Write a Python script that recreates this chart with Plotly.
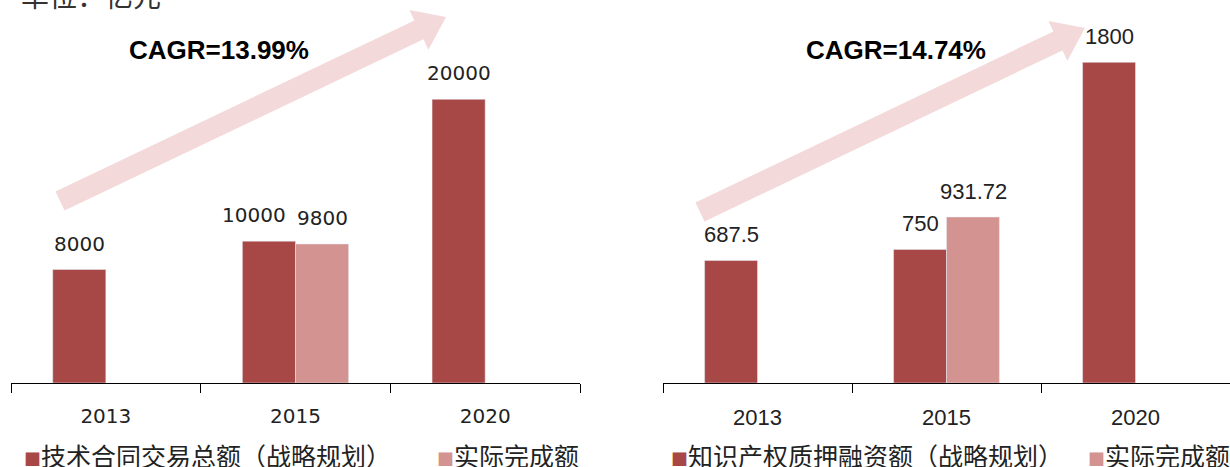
import plotly.graph_objects as go
import math

W, H = 1230, 467

# ---- data ----
years = ["2013", "2015", "2020"]
tech_plan = [8000, 10000, 20000]
tech_actual = [None, 9800, None]
ip_plan = [687.5, 750, 1800]
ip_actual = [None, 931.72, None]
tech_plan_labels = ["8000", "10000", "20000"]
tech_actual_labels = [None, "9800", None]
ip_plan_labels = ["687.5", "750", "1800"]
ip_actual_labels = [None, "931.72", None]
cagr_left = "CAGR=13.99%"
cagr_right = "CAGR=14.74%"
legend_left = ["技术合同交易总额（战略规划）", "实际完成额"]
legend_right = ["知识产权质押融资额（战略规划）", "实际完成额"]
unit_text = "单位：亿元"

C_PLAN = "#A84846"
C_ACT = "#D39390"
C_ARROW = "#F3D9D9"

fig = go.Figure()
fig.add_trace(go.Bar(x=years, y=tech_plan, marker_color=C_PLAN, xaxis="x", yaxis="y",
                     showlegend=False, name=legend_left[0]))
fig.add_trace(go.Bar(x=years, y=tech_actual, marker_color=C_ACT, xaxis="x", yaxis="y",
                     showlegend=False, name=legend_left[1]))
fig.add_trace(go.Bar(x=years, y=ip_plan, marker_color=C_PLAN, xaxis="x2", yaxis="y2",
                     showlegend=False, name=legend_right[0]))
fig.add_trace(go.Bar(x=years, y=ip_actual, marker_color=C_ACT, xaxis="x2", yaxis="y2",
                     showlegend=False, name=legend_right[1]))

ann = []
def labels(vals, labs, partner, xr, yr, xshift, font, size, nudge=0):
    for i, (v, l) in enumerate(zip(vals, labs)):
        if v is None:
            continue
        extra = nudge if (partner is not None and partner[i] is not None) else 0
        ann.append(dict(x=i, y=v, xref=xr, yref=yr, text=l, showarrow=False,
                        xshift=xshift + extra, yshift=26, xanchor="center", yanchor="middle",
                        font=dict(size=size, color="#222", family=font)))

labels(tech_plan, tech_plan_labels, tech_actual, "x", "y", -26.5, "DejaVu Sans", 20, nudge=-15)
labels(tech_actual, tech_actual_labels, None, "x", "y", 26.5, "DejaVu Sans", 20)
labels(ip_plan, ip_plan_labels, None, "x2", "y2", -26.5, "Liberation Sans", 22)
labels(ip_actual, ip_actual_labels, None, "x2", "y2", 26.5, "Liberation Sans", 22)

def px(x):
    return x / W
def py(y):
    return 1 - y / H

# CAGR titles
ann.append(dict(x=px(219), y=py(50), xref="paper", yref="paper", text="<b>%s</b>" % cagr_left,
                xanchor="center", yanchor="middle", showarrow=False,
                font=dict(size=26, color="#000", family="Liberation Sans")))
ann.append(dict(x=px(896), y=py(50), xref="paper", yref="paper", text="<b>%s</b>" % cagr_right,
                xanchor="center", yanchor="middle", showarrow=False,
                font=dict(size=26, color="#000", family="Liberation Sans")))

# unit text (cut off at top)
ann.append(dict(x=px(19), y=py(-5), xref="paper", yref="paper", text=unit_text, xanchor="left",
                yanchor="middle", showarrow=False,
                font=dict(size=28, color="#333", family="Noto Sans CJK SC")))

# legends
lf = dict(size=25, color="#222", family="Noto Sans CJK SC")
def leg(x, color, text):
    ann.append(dict(x=px(x), y=py(455), xref="paper", yref="paper", xanchor="left", yanchor="middle",
                    text='<span style="color:%s;font-size:17px">■</span>%s' % (color, text),
                    showarrow=False, font=lf))
leg(22, C_PLAN, legend_left[0])
leg(435, C_ACT, legend_left[1])
leg(669, C_PLAN, legend_right[0])
leg(1086, C_ACT, legend_right[1])

# arrows (decorative)
def arrow_path(x0, y0, x1, y1, shaft=21, head_w=44, head_l=30):
    dx, dy = x1 - x0, y1 - y0
    L = math.hypot(dx, dy)
    ux, uy = dx / L, dy / L
    nx, ny = -uy, ux
    bx, by = x1 - ux * head_l, y1 - uy * head_l
    pts = [
        (x0 + nx * shaft / 2, y0 + ny * shaft / 2),
        (bx + nx * shaft / 2, by + ny * shaft / 2),
        (bx + nx * head_w / 2, by + ny * head_w / 2),
        (x1, y1),
        (bx - nx * head_w / 2, by - ny * head_w / 2),
        (bx - nx * shaft / 2, by - ny * shaft / 2),
        (x0 - nx * shaft / 2, y0 - ny * shaft / 2),
    ]
    return "M " + " L ".join("%.4f,%.4f" % (px(a), py(b)) for a, b in pts) + " Z"

shapes = [
    dict(type="path", xref="paper", yref="paper", path=arrow_path(60, 201, 446, 17),
         fillcolor=C_ARROW, line=dict(width=0), layer="below"),
    dict(type="path", xref="paper", yref="paper", path=arrow_path(700, 212, 1085, 28),
         fillcolor=C_ARROW, line=dict(width=0), layer="below"),
]

def xax(domain, anchor, family, size):
    return dict(domain=domain, anchor=anchor, type="category",
                categoryorder="array", categoryarray=years, range=[-0.5, len(years) - 0.5],
                showline=True, linecolor="#000", linewidth=1,
                ticks="outside", tickson="boundaries", ticklen=9, tickcolor="#000",
                showgrid=False, zeroline=False, ticklabelstandoff=15,
                tickfont=dict(size=size, color="#222", family=family))

def yax(rng, anchor):
    return dict(range=rng, anchor=anchor, visible=False, showgrid=False, zeroline=False,
                domain=[(H - 383) / H, 1])

fig.update_layout(
    width=W, height=H, margin=dict(l=0, r=0, t=0, b=0),
    paper_bgcolor="white", plot_bgcolor="rgba(0,0,0,0)",
    barmode="group", bargap=0.44, bargroupgap=0,
    xaxis=xax([11 / W, 580 / W], "y", "DejaVu Sans", 20),
    yaxis=yax([0, 27000], "x"),
    xaxis2=xax([663 / W, 1.0], "y2", "Liberation Sans", 22),
    yaxis2=yax([0, 2150], "x2"),
    annotations=ann, shapes=shapes,
)

fig.write_html("out.html", config={"displayModeBar": False},
               post_script="document.body.style.margin='0';")
